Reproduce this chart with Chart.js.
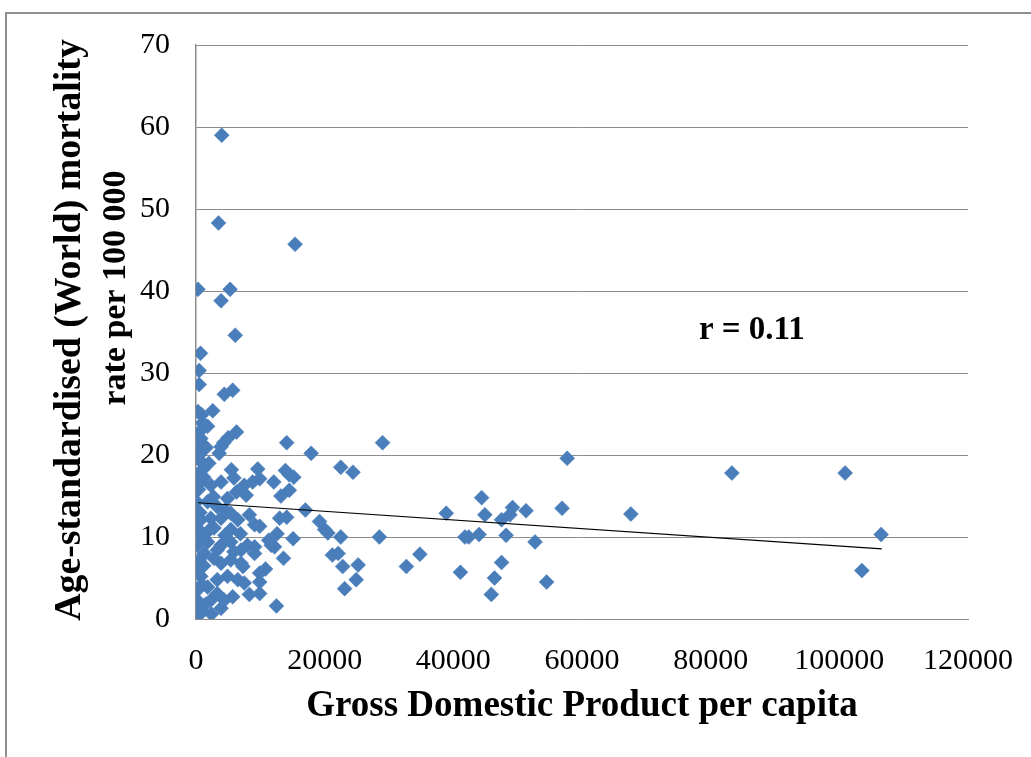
<!DOCTYPE html>
<html>
<head>
<meta charset="utf-8">
<script src="https://cdn.jsdelivr.net/npm/chart.js@4.4.1/dist/chart.umd.min.js"></script>
<style>
  html, body { margin: 0; padding: 0; background: #ffffff; }
  #wrap { position: relative; width: 1031px; height: 757px; overflow: hidden; }
  #frame { position: absolute; left: 5px; top: 12px; width: 1100px; height: 800px;
           border-left: 2px solid #8e8e8e; border-top: 2px solid #8e8e8e; }
  #c { position: absolute; left: 0; top: 0; }
</style>
</head>
<body>
<div id="wrap">
  <div id="frame"></div>
  <canvas id="c" width="1031" height="757"></canvas>
</div>
<script>
// GDP per capita for each country
const gdpPerCapita = [
  4000, 3500, 15400, 300, 5300, 3900, 6100, 700, 500, 500, 4400, 5700,
  300, 2600, 900,
  1000, 1800, 500, 750, 750, 1000, 500, 6300, 5000, 4300, 3900, 3600,
  750, 1000, 200, 5500, 750, 2300, 3900, 5900, 6300, 4900, 100, 1800,
  3300, 750, 2300, 3900, 5400, 6500, 8300, 9100, 2800, 5400, 6900,
  200, 1800, 3900, 5400, 8000, 1300, 3300, 5900, 9100, 5400, 7000,
  200, 3900, 750, 3300, 4900, 6500, 200, 1800, 3300, 200, 2300, 4400,
  5700, 750, 2400, 3900, 500,
  400, 600, 300, 900, 500, 1200, 900, 1500, 2800, 4500, 2000, 4500,
  2700, 1200, 2000, 1600,
  14100, 17900, 22500, 24400, 9600, 13900, 14500, 15200, 12100, 9900,
  8800, 7500, 14500, 13200, 7800, 17000, 13000, 14100, 9900, 12600,
  11300, 15100, 19200, 20000, 20500, 22500, 9100, 7000, 11700, 12200,
  21200, 22100, 13600, 22800, 25200, 24900, 23100, 9900, 10800, 9900,
  7300, 7500, 9900, 12500, 8300,
  29000, 57700, 44400, 38900, 44900, 49200, 51300, 56900, 47500, 48800,
  28500, 41800, 42400, 44000, 48200, 52700, 34800, 32700, 41100, 47500,
  46400, 45900, 54500, 67600, 83300, 100900, 106500, 103500
];

// Age-standardised (World) mortality rate per 100 000, same order
const mortalityRate = [
  59.0, 48.3, 45.7, 40.2, 40.2, 38.8, 34.6, 32.4, 30.3, 28.6, 27.4, 27.9,
  25.3, 25.4, 24.9,
  23.9, 23.5, 22.8, 22.0, 21.2, 20.6, 20.0, 22.8, 22.1, 21.5, 21.0, 20.2,
  19.2, 18.2, 17.6, 18.2, 16.7, 16.3, 16.7, 17.2, 15.5, 14.7, 14.3, 14.3,
  13.7, 12.1, 12.3, 12.3, 12.9, 12.1, 12.7, 11.5, 11.1, 10.9, 10.4,
  9.0, 9.4, 9.0, 9.4, 9.0, 8.0, 8.4, 8.2, 8.0, 7.2, 6.8,
  6.0, 6.8, 5.2, 4.8, 5.2, 4.8, 3.5, 3.9, 3.1, 2.3, 2.3, 2.3,
  2.7, 1.1, 0.6, 1.3, 0.5,
  15.8, 13.0, 11.0, 10.2, 7.2, 6.5, 4.2, 1.8, 7.4, 10.2, 10.8, 13.3,
  14.9, 17.3, 19.0, 20.9,
  21.5, 20.2, 18.5, 17.9, 18.3, 18.1, 17.6, 17.3, 16.7, 17.1,
  16.7, 16.3, 15.7, 15.0, 15.1, 13.3, 12.3, 12.4, 11.3, 10.4,
  9.6, 9.8, 11.9, 10.9, 10.5, 10.0, 8.8, 8.4, 9.0, 8.8,
  7.8, 8.0, 7.4, 6.4, 6.6, 4.8, 3.7, 5.6, 6.1, 4.5,
  6.4, 4.4, 3.1, 1.6, 3.0,
  21.5, 19.6, 14.8, 12.9, 12.7, 13.6, 13.2, 13.5, 12.1, 12.7,
  10.0, 10.0, 10.0, 10.3, 10.2, 9.4, 7.9, 6.4, 5.7, 6.9,
  5.0, 3.0, 4.5, 12.8, 17.8, 17.8, 10.3, 5.9
];

// Linear trend line end points (GDP, rate)
const trendGdp = [300, 106600];
const trendRate = [14.18, 8.54];

// Axis ticks
const xTicks = [0, 20000, 40000, 60000, 80000, 100000, 120000];
const yTicks = [0, 10, 20, 30, 40, 50, 60, 70];

const xTitle = 'Gross Domestic Product per capita';
const yTitleLines = ['Age-standardised (World) mortality', 'rate per 100 000'];
const rLabel = 'r = 0.11';

const points = gdpPerCapita.map((g, i) => ({ x: g, y: mortalityRate[i] }));
const trend = trendGdp.map((g, i) => ({ x: g, y: trendRate[i] }));

const SERIF = '"Liberation Serif", "Times New Roman", serif';
const GRID = '#8c8c8c';

// Rotated two-line y caption and the correlation note
const captions = {
  id: 'captions',
  afterDraw(chart) {
    const { ctx, chartArea, scales } = chart;
    const midY = (chartArea.top + chartArea.bottom) / 2;
    ctx.save();
    ctx.fillStyle = '#000';
    ctx.textAlign = 'center';
    ctx.textBaseline = 'middle';
    const lineX = [70, 116];
    const lineShift = [0, -42];
    const lineSize = [37.8, 34];
    yTitleLines.forEach((t, i) => {
      ctx.save();
      ctx.font = 'bold ' + lineSize[i] + 'px ' + SERIF;
      ctx.translate(lineX[i], midY - 2 + lineShift[i]);
      ctx.rotate(-Math.PI / 2);
      ctx.fillText(t, 0, 0);
      ctx.restore();
    });
    ctx.font = 'bold 33px ' + SERIF;
    ctx.fillText(rLabel, scales.x.getPixelForValue(86400), scales.y.getPixelForValue(35.2));
    ctx.restore();
  }
};

new Chart(document.getElementById('c'), {
  type: 'scatter',
  data: {
    datasets: [
      {
        type: 'line',
        data: trend,
        borderColor: '#000000',
        borderWidth: 1.2,
        pointRadius: 0,
        fill: false,
        order: 0
      },
      {
        data: points,
        pointStyle: 'rectRot',
        pointRadius: 7.5,
        backgroundColor: '#4a7ebb',
        borderColor: '#4a7ebb',
        borderWidth: 0.5,
        order: 1
      }
    ]
  },
  options: {
    responsive: false,
    animation: false,
    devicePixelRatio: 1,
    layout: { padding: { left: 0, right: 63, top: 45, bottom: 0 } },
    plugins: { legend: { display: false }, tooltip: { enabled: false } },
    events: [],
    scales: {
      x: {
        type: 'linear',
        min: 0,
        max: 120000,
        afterBuildTicks: (s) => { s.ticks = xTicks.map(v => ({ value: v })); },
        ticks: {
          color: '#000',
          font: { family: SERIF, size: 30 },
          padding: 24,
          maxRotation: 0,
          callback: (v) => String(v)
        },
        grid: { display: false, drawTicks: false },
        border: { display: true, color: GRID, width: 1 },
        title: {
          display: true,
          text: xTitle,
          color: '#000',
          font: { family: SERIF, size: 37, weight: 'bold' },
          padding: { top: 0, bottom: 28 }
        },
        afterFit: (s) => { s.height = 138; s.paddingLeft = 0; s.paddingRight = 0; }
      },
      y: {
        type: 'linear',
        min: 0,
        max: 70,
        afterBuildTicks: (s) => { s.ticks = yTicks.map(v => ({ value: v })); },
        ticks: {
          color: '#000',
          font: { family: SERIF, size: 30 },
          padding: 26,
          callback: (v) => String(v)
        },
        grid: { color: GRID, lineWidth: 1, drawTicks: false },
        border: { display: true, color: GRID, width: 1.5 },
        afterFit: (s) => { s.width = 196; s.paddingTop = 0; s.paddingBottom = 0; }
      }
    }
  },
  plugins: [captions]
});
</script>
</body>
</html>
